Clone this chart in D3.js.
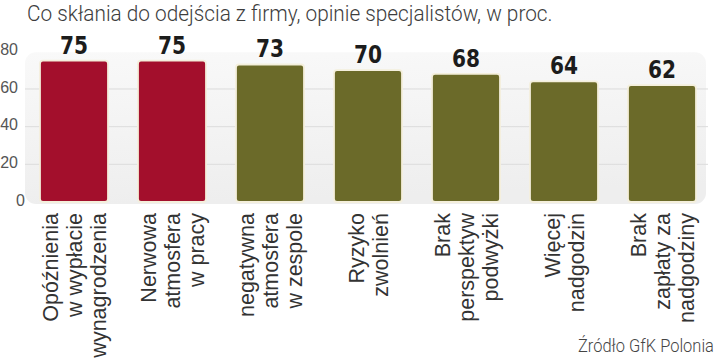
<!DOCTYPE html>
<html>
<head>
<meta charset="utf-8">
<script src="https://cdn.jsdelivr.net/npm/d3@7"></script>
<style>
  body { margin: 0; background: #fff; }
  svg { display: block; }
</style>
</head>
<body>
<svg class="chart"></svg>
<script>
// data
var categories = [
    ["Opóźnienia", "w wypłacie", "wynagrodzenia"],
    ["Nerwowa", "atmosfera", "w pracy"],
    ["negatywna", "atmosfera", "w zespole"],
    ["Ryzyko", "zwolnień"],
    ["Brak", "perspektyw", "podwyżki"],
    ["Więcej", "nadgodzin"],
    ["Brak", "zapłaty za", "nadgodziny"]
];
var values = [75, 75, 73, 70, 68, 64, 62];
var highlighted = [true, true, false, false, false, false, false];
var yTicks = [0, 20, 40, 60, 80];
var title = "Co skłania do odejścia z firmy, opinie specjalistów, w proc.";
var source = "Źródło GfK Polonia";

function show() {
    'use strict';
    var width = 720, height = 362;

    var svg = d3.select(".chart")
        .attr("width", width)
        .attr("height", height);

    var x = d3.scaleBand()
        .domain(d3.range(values.length))
        .range([25, 711])
        .paddingInner(0.306)
        .paddingOuter(0.153);

    var y = d3.scaleLinear()
        .domain([0, 80])
        .range([202, 51.3]);

    // panel background
    var defs = svg.append("defs");
    var grad = defs.append("linearGradient").attr("id", "panel")
        .attr("x1", 0).attr("y1", 0).attr("x2", 0.15).attr("y2", 1);
    grad.append("stop").attr("offset", "0%").attr("stop-color", "#f9f9f9");
    grad.append("stop").attr("offset", "100%").attr("stop-color", "#eeeeee");

    svg.append("rect")
        .attr("x", 25).attr("y", y(80) + 1)
        .attr("width", 681).attr("height", y(0) - y(80) + 1)
        .attr("rx", 11)
        .attr("fill", "url(#panel)");

    // grid lines
    svg.append("g").selectAll("line")
        .data(yTicks.filter(function(d) { return d > 0 && d < 80; }))
        .enter().append("line")
        .attr("x1", 25).attr("x2", 708)
        .attr("y1", function(d) { return y(d); })
        .attr("y2", function(d) { return y(d); })
        .attr("stroke", "#dcdcdc")
        .attr("stroke-width", 1);

    // y tick labels
    svg.append("g").selectAll("text")
        .data(yTicks)
        .enter().append("text")
        .attr("x", function(d) { return d === 0 ? 25 : 18; })
        .attr("y", function(d) { return y(d) - 2; })
        .attr("dy", "0.35em")
        .attr("text-anchor", "end")
        .attr("font-family", "Liberation Sans, Arial, sans-serif")
        .attr("font-size", 16)
        .attr("fill", "#555")
        .text(function(d) { return d; });

    // bars
    svg.append("g").selectAll("rect")
        .data(values)
        .enter().append("rect")
        .attr("x", function(d, i) { return x(i); })
        .attr("y", function(d) { return y(d); })
        .attr("width", x.bandwidth())
        .attr("height", function(d) { return y(0) - y(d); })
        .attr("rx", 3)
        .attr("fill", function(d, i) { return highlighted[i] ? "#a30f2c" : "#6b6a29"; })
        .attr("stroke", "#f4efdc")
        .attr("stroke-width", 1.8);

    // value labels (condensed look via horizontal squeeze)
    svg.append("g").selectAll("text")
        .data(values)
        .enter().append("text")
        .attr("transform", function(d, i) {
            return "translate(" + (x(i) + x.bandwidth() / 2) + "," + (y(d) - 7) + ") scale(0.84,1)";
        })
        .attr("text-anchor", "middle")
        .attr("font-family", "DejaVu Sans, sans-serif")
        .attr("font-weight", "bold")
        .attr("font-size", 24)
        .attr("fill", "#1c1c1c")
        .text(function(d) { return d; });

    // category labels, rotated
    var lineStep = 24;
    var cat = svg.append("g").selectAll("g")
        .data(categories)
        .enter().append("g")
        .attr("transform", function(d, i) {
            var cx = x(i) + x.bandwidth() / 2;
            var first = cx - (d.length - 1) * lineStep / 2;
            return "translate(" + (first + 7.5) + ",213) rotate(-90)";
        });
    cat.selectAll("text")
        .data(function(d) { return d; })
        .enter().append("text")
        .attr("x", 0)
        .attr("y", function(d, j) { return j * lineStep; })
        .attr("text-anchor", "end")
        .attr("font-family", "Liberation Sans, Arial, sans-serif")
        .attr("font-size", 21.5)
        .attr("fill", "#333")
        .text(function(d) { return d; });

    // title
    var t = svg.append("text")
        .attr("x", 0).attr("y", 0)
        .attr("font-family", "Roboto, Liberation Sans, Arial, sans-serif")
        .attr("font-weight", 300)
        .attr("font-size", 22)
        .attr("fill", "#3d3d3d")
        .text(title);
    fitWidth(t, 27, 21, 526, "start");

    // source
    var s = svg.append("text")
        .attr("x", 0).attr("y", 0)
        .attr("font-family", "Roboto, Liberation Sans, Arial, sans-serif")
        .attr("font-weight", 300)
        .attr("font-size", 18)
        .attr("fill", "#444")
        .text(source);
    fitWidth(s, 714, 352, 136, "end");

    function fitWidth(sel, px, py, w, anchor) {
        var natural = sel.node().getComputedTextLength();
        var k = w / natural;
        var tx = anchor === "end" ? px - w : px;
        sel.attr("transform", "translate(" + tx + "," + py + ") scale(" + k + ",1)");
    }
}
show();
</script>
</body>
</html>
